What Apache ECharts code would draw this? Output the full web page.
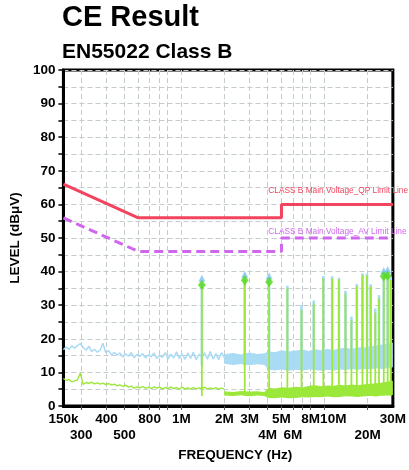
<!DOCTYPE html>
<html><head><meta charset="utf-8">
<script src="https://cdn.jsdelivr.net/npm/echarts@6/dist/echarts.min.js"></script>
<style>html,body{margin:0;padding:0;background:#fff}#c{width:409px;height:470px}</style>
</head><body><div id="c"></div>
<script>
// ---- axis ticks / labels (MHz) ----
const tickFreqs = [0.2,0.3,0.4,0.5,0.6,0.7,0.8,1,2,3,4,5,6,7,8,10,20];
const row1Freqs = [0.15001,0.3,0.6,1,2,3,5,8,11.5,29.998];
const row1Texts = ['150k','400','800','1M','2M','3M','5M','8M','10M','30M'];
const row2Freqs = [0.2,0.4,4,6,20];
const row2Texts = ['300','500','4M','6M','20M'];

// ---- limit lines (MHz, dBuV) ----
const qpFreq = [0.15,0.5,5,5,30];
const qpLevel = [66,56,56,60,60];
const avFreq = [0.15,0.5,5,5,30];
const avLevel = [56,46,46,50,50];

// ---- measured traces, 150k..2M (MHz) ----
const lowFreq = [0.150,0.157,0.164,0.172,0.180,0.188,0.197,0.206,0.216,0.226,0.236,0.247,0.259,0.271,0.283,0.296,0.310,0.325,0.340,0.356,0.372,0.390,0.408,0.427,0.447,0.467,0.489,0.512,0.536,0.561,0.587,0.614,0.643,0.673,0.704,0.737,0.771,0.807,0.845,0.884,0.925,0.968,1.01,1.06,1.11,1.16,1.21,1.27,1.33,1.39,1.45,1.52,1.59,1.67,1.74,1.82,1.91,1.99];
const peakLow = [16.8,17.5,16.9,17.9,17.2,18.0,18.6,17.4,16.6,17.8,16.2,16.9,16.0,16.6,18.7,15.9,16.5,15.2,16.0,15.1,15.8,14.6,15.5,14.8,15.9,14.4,15.3,14.7,15.6,14.3,15.2,14.6,15.8,14.2,15.0,14.5,15.9,14.0,15.4,14.3,16.1,14.1,15.5,13.9,15.8,14.2,16.0,13.8,15.4,14.5,15.9,13.9,16.2,14.0,15.6,13.8,15.9,14.4];
const avgLow = [8.2,7.6,7.9,7.2,7.5,7.8,9.8,6.4,7.0,6.7,7.1,6.6,6.9,6.5,6.8,6.4,6.7,6.2,6.5,6.0,6.3,5.8,6.2,5.6,5.9,5.3,5.7,5.4,5.8,5.3,5.6,5.2,5.7,5.3,5.6,5.1,5.5,5.2,5.7,5.2,5.5,5.0,5.6,5.1,5.4,5.0,5.5,5.1,5.4,5.2,5.6,5.0,5.4,5.1,5.5,5.0,5.3,5.1];

// ---- dense noise floor 2M..30M, envelope (MHz) ----
const bandFreq = [1.99,2.3,2.6,3.0,3.4,3.8,4.05,4.5,5,5.6,6.3,7,7.8,8.6,9.5,10.5,11.6,12.8,14,15.5,17,19,21,23,25.5,28,30];
const peakUpper = [15.4,15.8,15.3,15.9,15.5,15.7,16.3,16.0,16.6,16.2,16.5,16.8,16.4,16.9,16.6,17.0,16.7,17.1,17.3,17.0,17.5,17.4,17.8,18.0,18.3,18.6,18.9];
const peakLower = [12.6,12.2,12.5,12.1,12.4,12.2,10.9,10.6,10.9,10.5,10.8,10.6,10.9,10.7,10.5,10.8,10.6,10.9,10.7,11.0,10.8,11.0,10.9,11.2,11.0,11.3,11.5];
const avgUpper = [4.4,4.2,4.5,4.3,4.4,4.2,5.4,5.2,5.6,5.4,5.7,5.5,6.0,6.2,5.9,6.1,6.0,6.3,6.1,6.4,6.2,6.5,6.6,6.8,7.0,7.3,7.5];
const avgLower = [3.1,3.0,3.2,2.9,3.1,3.0,2.4,2.3,2.5,2.3,2.4,2.6,2.5,2.7,2.6,2.8,2.6,2.7,2.9,2.8,2.7,2.9,3.0,2.8,3.1,3.2,3.3];

// ---- emission spikes (MHz) ----
const spikeFreq = [1.39,2.77,4.1,5.5,6.9,8.4,9.8,11.3,12.6,14.0,15.4,16.8,18.4,19.8,21.0,22.6,24.0,25.9,27.6,29.0];
const spikeAvg  = [36.0,37.4,36.9,35.0,28.7,30.5,38.0,38.0,37.7,33.5,25.5,35.6,38.9,38.9,35.6,27.8,32.0,38.6,38.8,37.5];
const spikePeak = [37.6,38.8,38.3,35.8,30.0,31.4,38.7,38.6,38.2,34.3,26.6,36.3,39.5,39.4,36.2,29.0,33.0,40.0,40.3,38.5];

// ---- final measurement markers ----
const markFreq = [1.39,2.77,4.1,25.9,27.6];
const markAvg  = [36.0,37.4,36.9,38.6,38.8];
const markPeak = [38.0,39.2,38.7,40.3,40.6];

const FONT = "'Liberation Sans', Arial, sans-serif";
const C_PEAK = '#a9dbf5', C_AVG = '#9ce83a', C_QP = '#f2445e', C_AV = '#cf66ee';

function zip(a, b){ return a.map((v, i) => [v, b[i]]); }

function band(freqs, up, lo, color, z){
  return { type:'custom', z, silent:true, data:[[freqs[0], lo[0]]],
    renderItem(params, api){
      const pts = [];
      for (let i = 0; i < freqs.length; i++) pts.push(api.coord([freqs[i], up[i]]));
      for (let i = freqs.length - 1; i >= 0; i--) pts.push(api.coord([freqs[i], lo[i]]));
      return { type:'polygon', shape:{ points: pts }, style:{ fill: color } };
    } };
}
function spikes(freqs, tops, base, color, w, z){
  return { type:'custom', z, silent:true, data: zip(freqs, tops),
    renderItem(params, api){
      const p1 = api.coord([api.value(0), base]);
      const p2 = api.coord([api.value(0), api.value(1)]);
      return { type:'line', shape:{ x1:p1[0], y1:p1[1], x2:p2[0], y2:p2[1] }, style:{ stroke: color, lineWidth: w } };
    } };
}
function finder(freqs, texts){
  return function(v){
    let best = 0, bd = Infinity;
    freqs.forEach((f, i) => { const d = Math.abs(Math.log(v / f)); if (d < bd) { bd = d; best = i; } });
    return texts[best];
  };
}
const labelStyle = { fontFamily:FONT, fontWeight:'bold', fontSize:13.5, color:'#000' };

const chart = echarts.init(document.getElementById('c'), null, { renderer:'canvas' });
chart.setOption({
  animation:false,
  backgroundColor:'#fff',
  title:[
    { text:'CE Result', left:62, top:3, padding:0, textStyle:{ fontFamily:FONT, fontWeight:'bold', fontSize:29, color:'#000' } },
    { text:'EN55022 Class B', left:62, top:42, padding:0, textStyle:{ fontFamily:FONT, fontWeight:'bold', fontSize:21, color:'#000' } }
  ],
  grid:{ left:61, right:11, top:70, bottom:64, show:true, borderColor:'#000', borderWidth:3, backgroundColor:'transparent' },
  xAxis:[{
    type:'log', logBase:10, min:0.15, max:30,
    name:'FREQUENCY (Hz)', nameLocation:'middle', nameGap:42,
    nameTextStyle:Object.assign({}, labelStyle, { padding:[0,0,0,14] }),
    axisLine:{ onZero:false, lineStyle:{ color:'#000', width:3 } },
    axisTick:{ customValues: tickFreqs, length:4, lineStyle:{ color:'#555', width:1 } },
    axisLabel:Object.assign({ customValues: row1Freqs, formatter: finder(row1Freqs, row1Texts), margin:6,
      showMinLabel:true, showMaxLabel:true }, labelStyle),
    splitLine:{ show:true, lineStyle:{ color:'#c5cccc', type:[5,3], width:1 } },
    minorTick:{ show:false }, minorSplitLine:{ show:false }
  },{
    type:'log', logBase:10, min:0.15, max:30, position:'bottom',
    axisLine:{ show:false }, axisTick:{ show:false }, splitLine:{ show:false },
    axisLabel:Object.assign({ customValues: row2Freqs, formatter: finder(row2Freqs, row2Texts), margin:22 }, labelStyle)
  }],
  yAxis:{
    type:'value', min:0, max:100, interval:5,
    name:'LEVEL (dBμV)', nameLocation:'middle', nameGap:28,
    nameTextStyle:labelStyle,
    axisLine:{ show:true, lineStyle:{ color:'#000', width:3 } },
    axisTick:{ show:true, length:5, lineStyle:{ color:'#000', width:1.5 } },
    axisLabel:Object.assign({ margin:8, formatter: v => (v % 10 === 0 ? String(v) : '') }, labelStyle),
    splitLine:{ show:true, lineStyle:{ color:'#c5cccc', type:[5,3], width:1 } }
  },
  series:[
    { type:'line', z:2, data: zip(lowFreq, peakLow), symbol:'none', silent:true, lineStyle:{ color:C_PEAK, width:1.5 } },
    band(bandFreq, peakUpper, peakLower, C_PEAK, 2),
    spikes(spikeFreq, spikePeak, 12, C_PEAK, 2.6, 3),
    { type:'line', z:4, data: zip(lowFreq, avgLow), symbol:'none', silent:true, lineStyle:{ color:C_AVG, width:1.4 } },
    band(bandFreq, avgUpper, avgLower, C_AVG, 4),
    spikes(spikeFreq, spikeAvg, 3, C_AVG, 1.8, 5),
    { type:'line', z:6, data: zip(qpFreq, qpLevel), symbol:'none', silent:true, lineStyle:{ color:C_QP, width:3 },
      markPoint:{ symbol:'circle', symbolSize:0, silent:true,
        data:[{ coord:[4.05, 64] }],
        label:{ show:true, position:'right', distance:0, formatter:'CLASS B Main Voltage_QP Limit Line',
          fontFamily:FONT, fontSize:8.3, color:C_QP } } },
    { type:'line', z:6, data: zip(avFreq, avLevel), symbol:'none', silent:true, lineStyle:{ color:C_AV, width:3, type:[9,5] },
      markPoint:{ symbol:'circle', symbolSize:0, silent:true,
        data:[{ coord:[4.05, 52] }],
        label:{ show:true, position:'right', distance:0, formatter:'CLASS B Main Voltage_AV Limit Line',
          fontFamily:FONT, fontSize:8.3, color:C_AV } } },
    { type:'scatter', z:7, silent:true, data: zip(markFreq, markPeak), symbol:'triangle', symbolSize:7, itemStyle:{ color:'#7cc4f0' } },
    { type:'scatter', z:8, silent:true, data: zip(markFreq, markAvg), symbol:'diamond', symbolSize:[8,10], itemStyle:{ color:'#55d81c' } }
  ]
});
</script>
</body></html>
